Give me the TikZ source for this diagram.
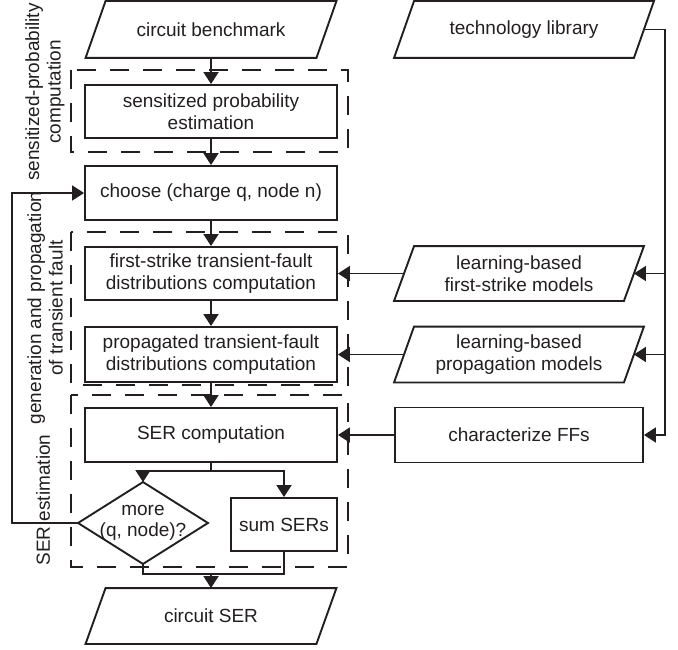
\documentclass[tikz,border=0pt]{standalone}
\usepackage{fontspec}
\setmainfont{Liberation Sans}
\usetikzlibrary{arrows.meta}
\definecolor{ink}{HTML}{231F20}
\begin{document}
\begin{tikzpicture}[x=1pt,y=-1pt,
  font=\fontsize{19}{21.5}\selectfont,
  every node/.style={text=ink},
  line width=1.9pt, draw=ink,
  box/.style={draw=ink, line width=1.9pt, rectangle, minimum width=252pt, minimum height=54pt, align=center, inner sep=0pt},
  iobox/.style={rectangle, minimum width=249pt, minimum height=55pt, align=center, inner sep=0pt},
  arr/.style={draw=ink, -{Triangle[width=15pt,length=12pt]}},
  grp/.style={draw=ink, line width=1.9pt, dash pattern=on 19pt off 14pt},
  lab/.style={rotate=90, align=center, inner sep=0pt}
]
\useasboundingbox (0,0) rectangle (678,650);

% main column
\node[iobox] (bench) at (211,29.5) {circuit benchmark};
\node[box, minimum height=53pt] (sens) at (211,111.5) {sensitized probability\\estimation};
\node[box] (choose) at (211,193) {choose (charge q, node n)};
\node[box, minimum height=53pt] (first) at (211,273.5) {first-strike transient-fault\\distributions computation};
\node[box, minimum height=55pt] (prop) at (211,354.5) {propagated transient-fault\\distributions computation};
\node[box] (ser) at (211,435) {SER computation};
\node[rectangle, minimum width=128pt, minimum height=80pt, inner sep=0pt, align=center] (more) at (143,523) {more\\(q, node)?};
\node[box, minimum width=106pt, minimum height=53pt] (sum) at (284,524.5) {sum SERs};
\node[iobox, minimum height=54pt] (out) at (211,616) {circuit SER};

% right column
\node[iobox, minimum width=258pt] (tech) at (524,29.5) {technology library};
\node[iobox, minimum width=248pt, minimum height=53pt] (lbfs) at (519,273.5) {learning-based\\first-strike models};
\node[iobox, minimum width=248pt, minimum height=54pt] (lbp) at (519,354.5) {learning-based\\propagation models};
\node[box, minimum width=248pt, minimum height=55pt] (ffs) at (519,435) {characterize FFs};

% parallelograms and diamond outlines
\foreach \n in {bench,out,tech,lbfs,lbp}
  \draw ([xshift=20pt]\n.north west) -- (\n.north east) -- ([xshift=-20pt]\n.south east) -- (\n.south west) -- cycle;
\draw (more.north) -- (more.east) -- (more.south) -- (more.west) -- cycle;

% groups
\draw[grp] (71,70) rectangle (348,152);
\draw[grp] (71,232) rectangle (348,385);
\draw[grp] (71,395) rectangle (348,567);

% group labels
\node[lab] (l1) at (45,92) {sensitized-probability\\computation};
\node[lab] (l2) at (45,308) {generation and propagation\\of transient fault};
\node[lab] (l3) at (43,500) {SER estimation};

% main flow
\draw[arr] (bench) -- (sens);
\draw[arr] (sens) -- (choose);
\draw[arr] (choose) -- (first);
\draw[arr] (first) -- (prop);
\draw[arr] (prop) -- (ser);
\coordinate (split) at (211,471);
\coordinate (join) at (211,574);
\draw (ser.south) -- (split);
\draw[arr] (split) -| (more.north);
\draw[arr] (split) -| (sum.north);
\draw (more.south) |- (join) -| (sum.south);
\draw[arr] (join) -- (out.north);
\draw[arr] (more.west) -- ++(-66,0) |- (choose.west);

% right side
\coordinate (rail) at (665,0);
\draw[arr] ([xshift=-10pt]tech.east) -| (rail |- ffs.east) -- (ffs.east);
\draw[arr] (rail |- lbfs.east) -- ([xshift=-10pt]lbfs.east);
\draw[arr] (rail |- lbp.east) -- ([xshift=-10pt]lbp.east);
\draw[arr] ([xshift=10pt]lbfs.west) -- (first.east);
\draw[arr] ([xshift=10pt]lbp.west) -- (prop.east);
\draw[arr] (ffs.west) -- (ser.east);
\end{tikzpicture}
\end{document}
